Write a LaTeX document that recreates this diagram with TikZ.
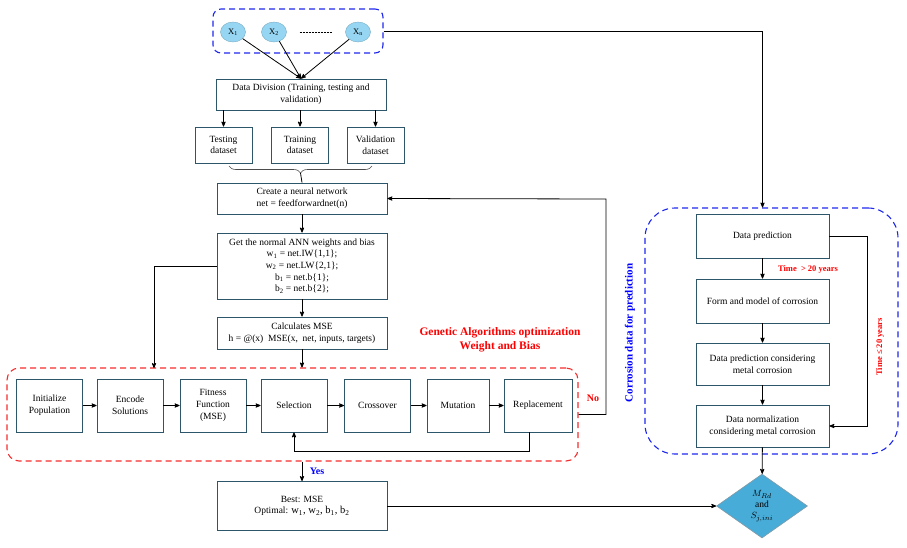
\documentclass[tikz,border=0pt]{standalone}
\usepackage{fontspec}
\setmainfont{Liberation Serif}
\usepackage{tikz}
\usetikzlibrary{arrows}
\usetikzlibrary{shapes}
\usetikzlibrary{decorations,decorations.pathreplacing}
\usetikzlibrary{calc}
\definecolor{boxline}{RGB}{46,86,106}
\definecolor{nodeblue}{RGB}{150,214,242}
\definecolor{diamblue}{RGB}{72,172,216}
\definecolor{frameblue}{RGB}{30,40,235}
\definecolor{framered}{RGB}{245,45,45}
\tikzstyle{stepbox}=[draw=boxline, line width=0.9pt, fill=white, align=center, inner sep=1pt, font=\fontsize{9.5}{11.7}\selectfont]
\tikzstyle{mainbox}=[stepbox, minimum width=170pt]
\tikzstyle{databox}=[stepbox, minimum width=57pt, minimum height=36pt]
\tikzstyle{gabox}=[stepbox, minimum width=66pt, minimum height=53pt]
\tikzstyle{corrbox}=[stepbox, minimum width=133pt]
\tikzstyle{xnode}=[ellipse, fill=nodeblue, draw=nodeblue!80!black, line width=0.4pt, minimum width=25pt, minimum height=20pt, inner sep=0pt, font=\fontsize{8.5}{9}\selectfont]
\tikzstyle{blueframe}=[draw=frameblue, line width=1.1pt, dash pattern=on 6pt off 4pt]
\tikzstyle{redframe}=[draw=framered, line width=1.1pt, dash pattern=on 6pt off 4pt]
\tikzstyle{conn}=[line width=0.8pt, ->, >=stealth']
\tikzstyle{redlabel}=[text=red, font=\bfseries\fontsize{8.5}{10}\selectfont]
\newcommand{\xsub}[2]{#1\textsubscript{#2}}

\begin{document}
\begin{tikzpicture}[x=1pt, y=-1pt]
 \useasboundingbox (0,0) rectangle (907,547);
%
% inputs
 \node[blueframe, rounded corners=8pt, minimum width=170pt, minimum height=44pt] (inputs) at (298,31) {};
 \node[xnode] (x1) at (233,32) {\xsub{X}{1}};
 \node[xnode] (x2) at (274,32) {\xsub{X}{2}};
 \node[xnode] (xn) at (358,32) {\xsub{X}{n}};
 \draw[densely dotted, line width=0.5pt, shorten <=13pt, shorten >=13pt] (x2) -- (xn);
%
% data division
 \node[mainbox, minimum height=31pt] (division) at (301,94.5) {Data Division (Training, testing and\\validation)};
 \foreach \x in {x1,x2,xn}
  \draw[conn] (\x) -- (division.north);
 \node[databox] (testing) at (223.5,145) {Testing\\dataset};
 \node[databox] (training) at (300,145) {Training\\dataset};
 \node[databox] (validation) at (375.5,145) {Validation\\dataset};
 \foreach \d in {testing,training,validation}
  \draw[conn] (division.south -| \d.north) -- (\d.north);
%
 \coordinate (bl) at (229,166);
 \coordinate (br) at (372,166);
 \draw[line width=0.6pt, black!70, decorate, decoration={brace,mirror,amplitude=7pt}] (bl) -- (br);
%
% network
 \node[mainbox, minimum height=31pt] (create) at (302,198.5) {Create a neural network\\net = feedforwardnet(n)};
 \draw[line width=0.8pt] ($(bl)!.5!(br)+(0,7)$) -- (create.north);
 \node[mainbox, minimum height=66pt] (getw) at (302,266) {Get the normal ANN weights and bias\\
  \xsub{w}{1} = net.IW\{1,1\};\\ \xsub{w}{2} = net.LW\{2,1\};\\ \xsub{b}{1} = net.b\{1\};\\ \xsub{b}{2} = net.b\{2\};};
 \node[mainbox, minimum height=32pt] (calc) at (302,333) {Calculates MSE\\h = @(x) \ MSE(x, \ net, inputs, targets)};
 \draw[conn] (create) -- (getw);
 \draw[conn] (getw) -- (calc);
%
% genetic algorithm
 \node[redframe, rounded corners=12pt, minimum width=571pt, minimum height=93pt] (gaframe) at (292.5,414.5) {};
 \node[gabox] (init) at (49.5,405.5) {Initialize\\Population};
 \node[gabox] (encode) at (130,405.5) {Encode\\Solutions};
 \node[gabox] (fitness) at (213,405.5) {Fitness\\Function\\(MSE)};
 \node[gabox] (selection) at (294,405.5) {Selection};
 \node[gabox] (crossover) at (377.5,405.5) {Crossover};
 \node[gabox, minimum width=62pt] (mutation) at (458,405.5) {Mutation};
 \node[gabox, minimum width=68pt] (replacement) at (538,405.5) {Replacement};
 \foreach \a/\b in {init/encode,encode/fitness,fitness/selection,selection/crossover,crossover/mutation,mutation/replacement}
  \draw[conn] (\a) -- (\b);
 \draw[conn] ($(replacement.south)+(-9,0)$) -- ++(0,19) -| (selection.south);
 \draw[conn] (calc) -- (calc.south |- gaframe.north);
 \coordinate (galeft) at (154,368);
 \draw[conn] (getw.west) -| (galeft);
 \node[text=red, font=\bfseries\fontsize{11.5}{14}\selectfont, align=center] (gatitle) at (500,340) {Genetic Algorithms optimization\\Weight and Bias};
%
 \coordinate (noturn) at (606,199);
 \draw[conn] (gaframe.east) -| (noturn) -- (create.east);
 \node[text=red, font=\bfseries\fontsize{10}{12}\selectfont] (nolabel) at (593,398) {No};
%
% best
 \node[mainbox, minimum height=49pt] (best) at (302,506) {Best: MSE\\Optimal: {\fontsize{10.5}{12}\selectfont \xsub{w}{1}, \xsub{w}{2}, \xsub{b}{1}, \xsub{b}{2}}};
 \draw[conn] (gaframe.south -| best.north) -- (best.north);
 \node[text=blue, font=\bfseries\fontsize{10}{12}\selectfont] (yeslabel) at (317,471) {Yes};
%
% corrosion
 \node[blueframe, rounded corners=30pt, minimum width=253pt, minimum height=246pt] (corrframe) at (771.5,331) {};
 \node[corrbox, minimum height=44pt] (pred) at (762.5,236) {Data prediction};
 \node[corrbox, minimum height=44pt] (form) at (762.5,301) {Form and model of corrosion};
 \node[corrbox, minimum height=42pt] (predcorr) at (762.5,364) {Data prediction considering\\metal corrosion};
 \node[corrbox, minimum height=42pt] (norm) at (762.5,426) {Data normalization\\considering metal corrosion};
 \node[diamond, draw=boxline!60, line width=0.6pt, fill=diamblue, inner sep=0pt, minimum width=91pt, minimum height=64pt, align=center, font=\fontsize{9.5}{11}\selectfont] (result) at (762,506) {$M_{Rd}$\\and\\$S_{j,ini}$};
 \draw[conn] (inputs.east) -| (pred.north |- corrframe.north);
 \draw[conn] (pred) -- (form);
 \draw[conn] (form) -- (predcorr);
 \draw[conn] (predcorr) -- (norm);
 \draw[conn] (norm) -- (result);
 \draw[conn] (pred.east) -- ++(38,0) |- (norm.east);
 \draw[conn] (best.east) -- (result.west);
 \node[redlabel] (older) at (808,269) {Time \ > 20 years};
 \node[redlabel, rotate=90] (younger) at (880,347) {Time ≤ 20 years};
 \node[text=blue, rotate=90, font=\bfseries\fontsize{11}{13}\selectfont] (corrtitle) at (630,333) {Corrosion data for prediction};
\end{tikzpicture}
\end{document}
